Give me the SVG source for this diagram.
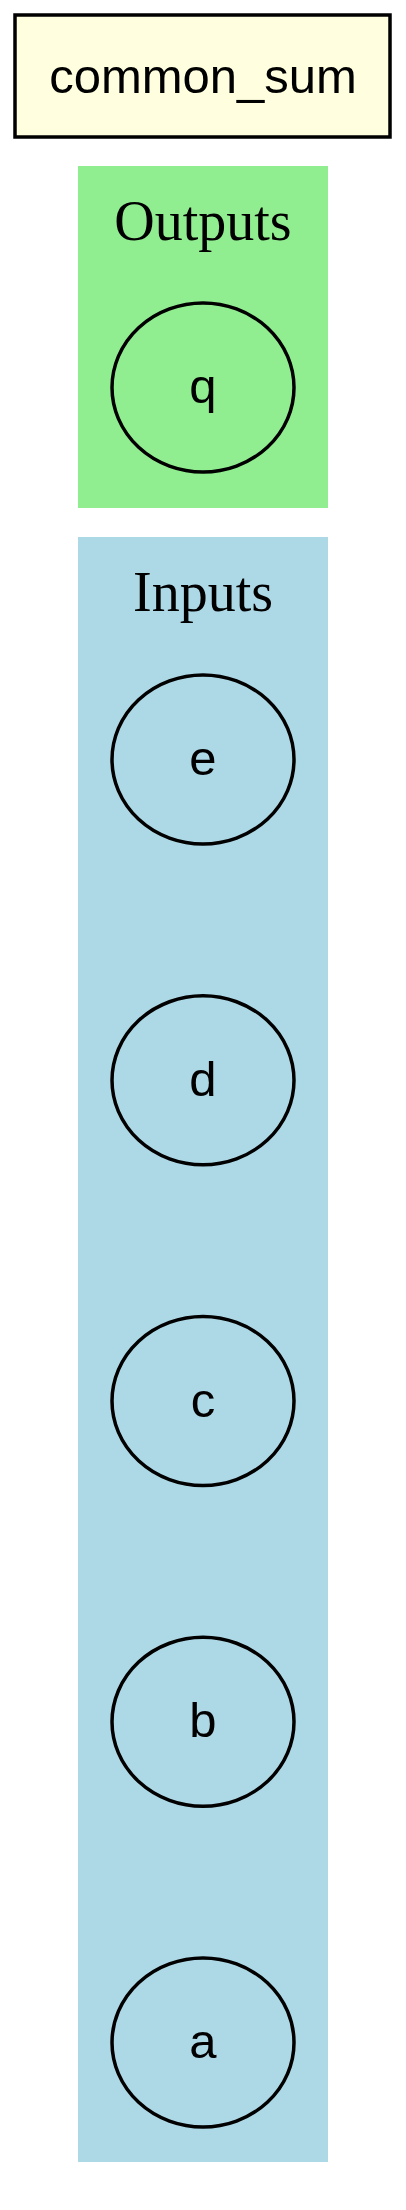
<svg xmlns="http://www.w3.org/2000/svg" width="406" height="2210" viewBox="0 0 406 2210">
<style>
.node ellipse{stroke:#000;stroke-width:3.5;}
.lbl{font-family:"Liberation Sans",Arial,sans-serif;font-size:49px;text-anchor:middle;fill:#000;}
.clbl{font-family:"Liberation Serif","Times New Roman",serif;font-size:56px;text-anchor:middle;fill:#000;}
</style>
<rect width="406" height="2210" fill="#ffffff"/>
<g id="cluster_outputs">
<rect x="78" y="166" width="250" height="342" fill="#90ee90"/>
<text class="clbl" x="203" y="240">Outputs</text>
</g>
<g id="cluster_inputs">
<rect x="78" y="537" width="250" height="1625" fill="#add8e6"/>
<text class="clbl" x="203" y="611">Inputs</text>
</g>
<g id="common_sum">
<rect x="15" y="15" width="375" height="122" fill="#ffffe0" stroke="#000" stroke-width="3.5"/>
<text class="lbl" x="203" y="93">common_sum</text>
</g>
<g id="q" class="node">
<ellipse cx="203" cy="387.5" rx="91" ry="84.5" fill="#90ee90"/>
<text class="lbl" x="203" y="403">q</text>
</g>
<g id="e" class="node">
<ellipse cx="203" cy="759.5" rx="91" ry="84.5" fill="#add8e6"/>
<text class="lbl" x="203" y="775">e</text>
</g>
<g id="d" class="node">
<ellipse cx="203" cy="1080.3" rx="91" ry="84.5" fill="#add8e6"/>
<text class="lbl" x="203" y="1096">d</text>
</g>
<g id="c" class="node">
<ellipse cx="203" cy="1401" rx="91" ry="84.5" fill="#add8e6"/>
<text class="lbl" x="203" y="1417">c</text>
</g>
<g id="b" class="node">
<ellipse cx="203" cy="1721.8" rx="91" ry="84.5" fill="#add8e6"/>
<text class="lbl" x="203" y="1737">b</text>
</g>
<g id="a" class="node">
<ellipse cx="203" cy="2042.5" rx="91" ry="84.5" fill="#add8e6"/>
<text class="lbl" x="203" y="2058">a</text>
</g>
<g id="connectors"></g>
</svg>
